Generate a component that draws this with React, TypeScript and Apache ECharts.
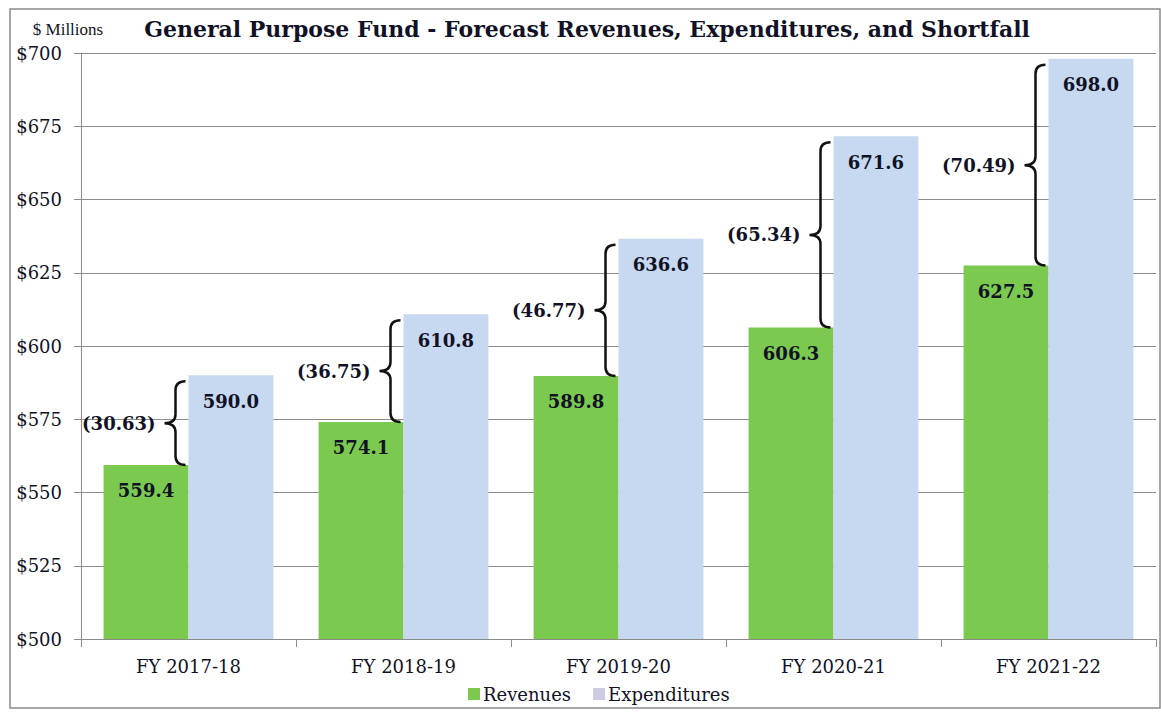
import React, { useEffect, useRef } from "react";
import * as echarts from "echarts";

const categories = ["FY 2017-18", "FY 2018-19", "FY 2019-20", "FY 2020-21", "FY 2021-22"];
const revenues = [559.4, 574.1, 589.8, 606.3, 627.5];
const expenditures = [590.0, 610.8, 636.6, 671.6, 698.0];
const shortfalls = ["30.63", "36.75", "46.77", "65.34", "70.49"];
const yTicks = { min: 500, max: 700, interval: 25 };

const FONT = "DejaVu Serif";
const TEXT = "#121226";
const GREEN = "#7cc94f";
const BLUE = "#c6d9f0";

export default function App() {
  const ref = useRef<HTMLDivElement>(null);
  useEffect(() => {
    if (!ref.current) return;
    const chart = echarts.init(ref.current, null, { renderer: "svg" });
    const braceData = categories.map((_, i) => [i, revenues[i], expenditures[i], shortfalls[i]]);
    chart.setOption({
      animation: false,
      backgroundColor: "#fff",
      textStyle: { fontFamily: FONT, color: TEXT },
      grid: { left: 81, right: 5, top: 53, bottom: 73, containLabel: false },
      graphic: [
        { type: "rect", shape: { x: 10, y: 9, width: 1150, height: 699 }, style: { fill: "none", stroke: "#8a8a8a", lineWidth: 1.5 }, silent: true },
        { type: "text", x: 68, y: 29, style: { text: "$ Millions", fontFamily: "Liberation Serif", fontSize: 17, fill: TEXT, align: "center", verticalAlign: "middle" } },
        { type: "text", x: 587, y: 29, style: { text: "General Purpose Fund - Forecast Revenues, Expenditures, and Shortfall", fontFamily: FONT, fontWeight: "bold", fontSize: 22, fill: TEXT, align: "center", verticalAlign: "middle" } },
      ],
      legend: {
        left: 463,
        top: 680,
        itemWidth: 12,
        itemHeight: 12,
        itemGap: 22,
        icon: "rect",
        textStyle: { fontFamily: FONT, fontSize: 18, color: TEXT, padding: [0, 0, 0, -2] },
        data: [
          { name: "Revenues", itemStyle: { color: GREEN } },
          { name: "Expenditures", itemStyle: { color: "#cbcce4" } },
        ],
      },
      xAxis: {
        type: "category",
        data: categories,
        axisLine: { lineStyle: { color: "#8a8a8a", width: 1 } },
        axisTick: { show: true, length: 8, lineStyle: { color: "#8a8a8a" } },
        axisLabel: { fontFamily: FONT, fontSize: 18, color: TEXT, margin: 18 },
      },
      yAxis: {
        type: "value",
        min: yTicks.min,
        max: yTicks.max,
        interval: yTicks.interval,
        axisLine: { show: true, lineStyle: { color: "#8a8a8a", width: 1 } },
        axisTick: { show: true, length: 7, lineStyle: { color: "#8a8a8a" } },
        splitLine: { lineStyle: { color: "#8c8c8c", width: 1 } },
        axisLabel: { fontFamily: FONT, fontSize: 18, color: TEXT, margin: 19, formatter: (v: number) => "$" + v },
      },
      series: [
        {
          name: "Revenues",
          type: "bar",
          data: revenues,
          barGap: "0%",
          barCategoryGap: "21%",
          itemStyle: { color: GREEN },
          label: { show: true, position: "insideTop", distance: 17, formatter: (p: any) => p.value.toFixed(1), fontFamily: FONT, fontWeight: "bold", fontSize: 18, color: TEXT },
        },
        {
          name: "Expenditures",
          type: "bar",
          data: expenditures,
          itemStyle: { color: BLUE },
          label: { show: true, position: "insideTop", distance: 17, formatter: (p: any) => p.value.toFixed(1), fontFamily: FONT, fontWeight: "bold", fontSize: 18, color: TEXT },
        },
        {
          name: "Shortfall",
          type: "custom",
          data: braceData,
          z: 5,
          renderItem: (params: any, api: any) => {
            const idx = api.value(0);
            const bot = api.coord([idx, api.value(1)]);
            const top = api.coord([idx, api.value(2)]);
            const cx = top[0];
            const y0 = top[1] + 6;
            const y1 = bot[1];
            const ym = (y0 + y1) / 2;
            const xr = cx - 3;
            const xl = cx - 24;
            const xm = cx - 13;
            const r = 9;
            const d = `M${xr} ${y0} Q${xm} ${y0} ${xm} ${y0 + r} L${xm} ${ym - r} Q${xm} ${ym} ${xl} ${ym} Q${xm} ${ym} ${xm} ${ym + r} L${xm} ${y1 - r} Q${xm} ${y1} ${xr} ${y1}`;
            return {
              type: "group",
              children: [
                { type: "path", shape: { pathData: d }, style: { fill: "none", stroke: "#111", lineWidth: 2.5 } },
                { type: "text", style: { x: xl - 9, y: ym, text: "(" + api.value(3) + ")", align: "right", verticalAlign: "middle", fontFamily: FONT, fontWeight: "bold", fontSize: 18, fill: TEXT } },
              ],
            };
          },
        },
      ],
    });
    return () => chart.dispose();
  }, []);
  return <div ref={ref} style={{ position: "absolute", left: 0, top: 0, width: 1161, height: 712 }} />;
}
